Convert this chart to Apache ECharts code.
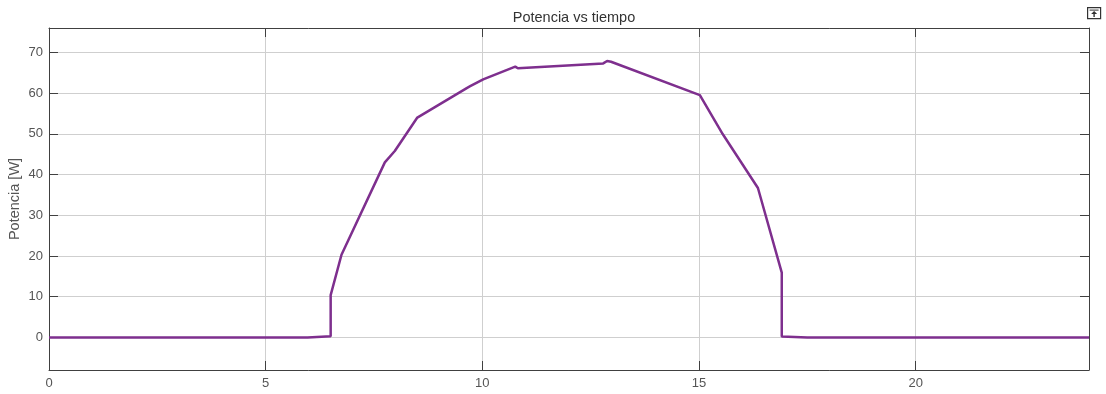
<!DOCTYPE html>
<html>
<head>
<meta charset="utf-8">
<title>Potencia vs tiempo</title>
<script src="https://cdn.jsdelivr.net/npm/echarts@6/dist/echarts.min.js"></script>
<style>
  html, body { margin: 0; padding: 0; background: #ffffff; }
  #chart { width: 1106px; height: 394px; }
</style>
</head>
<body>
<div id="chart"></div>
<script>
// Hour of day and generated power [W]
const tiempo = [0, 5.97, 6.5, 6.5, 6.75, 7.75, 7.98, 8.5, 9.65, 9.72, 10.02, 10.76, 10.82, 12.79, 12.88, 12.97, 15.02, 15.55, 16.36, 16.91, 16.91, 17.5, 24];
const potencia = [0, 0, 0.3, 10.4, 20.3, 43.0, 45.8, 54.0, 61.3, 61.7, 63.4, 66.5, 66.1, 67.3, 67.9, 67.7, 59.5, 49.9, 36.7, 15.9, 0.2, 0, 0];

const xTicks = [0, 5, 10, 15, 20];
const yTicks = [0, 10, 20, 30, 40, 50, 60, 70];

const xRange = [0, 24];
const yRange = [-8, 76];

const FONT = '"Liberation Sans", Arial, sans-serif';
const frameColor = '#404040';
const gridColor = '#cfcfcf';
const labelColor = '#555555';

const chart = echarts.init(document.getElementById('chart'), null, { renderer: 'canvas' });

function frameAxis(extra) {
  return Object.assign({
    type: 'value',
    axisLine: { show: true, onZero: false, lineStyle: { color: frameColor, width: 1 } },
    axisTick: { show: true, inside: true, length: 9, lineStyle: { color: frameColor } },
    axisLabel: { show: false },
    splitLine: { show: false }
  }, extra);
}

const option = {
  animation: false,
  backgroundColor: '#ffffff',
  title: {
    text: 'Potencia vs tiempo',
    left: 569,
    textAlign: 'center',
    top: 5,
    textStyle: { fontFamily: FONT, fontSize: 14.5, fontWeight: 'normal', color: '#333333' }
  },
  grid: { left: 49, right: 17, top: 28, bottom: 24, containLabel: false, outerBoundsMode: 'none' },
  xAxis: [
    {
      type: 'value',
      position: 'bottom',
      min: xRange[0], max: xRange[1],
      axisLine: { show: true, onZero: false, lineStyle: { color: frameColor, width: 1 } },
      axisTick: { show: true, inside: true, length: 9, customValues: xTicks, lineStyle: { color: frameColor } },
      axisLabel: { show: true, customValues: xTicks, color: labelColor, fontFamily: FONT, fontSize: 13, margin: 7 },
      splitLine: { show: true, lineStyle: { color: gridColor, width: 1 } }
    },
    frameAxis({ position: 'top', min: xRange[0], max: xRange[1],
      axisTick: { show: true, inside: true, length: 9, customValues: xTicks, lineStyle: { color: frameColor } } })
  ],
  yAxis: [
    {
      type: 'value',
      position: 'left',
      min: yRange[0], max: yRange[1],
      name: 'Potencia [W]',
      nameLocation: 'middle',
      nameRotate: 90,
      nameGap: 27,
      nameMoveOverlap: false,
      nameTextStyle: { fontFamily: FONT, fontSize: 14.5, color: labelColor },
      axisLine: { show: true, onZero: false, lineStyle: { color: frameColor, width: 1 } },
      axisTick: { show: true, inside: true, length: 9, customValues: yTicks, lineStyle: { color: frameColor } },
      axisLabel: { show: true, customValues: yTicks, color: labelColor, fontFamily: FONT, fontSize: 13, margin: 6 },
      splitLine: { show: true, lineStyle: { color: gridColor, width: 1 } }
    },
    frameAxis({ position: 'right', min: yRange[0], max: yRange[1],
      axisTick: { show: true, inside: true, length: 9, customValues: yTicks, lineStyle: { color: frameColor } } })
  ],
  series: [
    {
      type: 'line',
      xAxisIndex: 0,
      yAxisIndex: 0,
      data: tiempo.map((t, i) => [t, potencia[i]]),
      showSymbol: false,
      symbol: 'none',
      lineStyle: { color: '#7E2F8E', width: 2.5 },
      itemStyle: { color: '#7E2F8E' },
      z: 5
    }
  ],
  graphic: [
    {
      type: 'group',
      left: 1087,
      top: 7,
      children: [
        { type: 'rect', shape: { x: 0, y: 0, width: 13, height: 11 }, style: { fill: '#ffffff', stroke: '#333333', lineWidth: 1.2 } },
        { type: 'line', shape: { x1: 2, y1: 2.5, x2: 11, y2: 2.5 }, style: { stroke: '#333333', lineWidth: 1 } },
        { type: 'polygon', shape: { points: [[6.5, 3.5], [3.5, 6.5], [9.5, 6.5]] }, style: { fill: '#333333' } },
        { type: 'rect', shape: { x: 5.8, y: 6, width: 1.4, height: 3.5 }, style: { fill: '#333333' } }
      ]
    }
  ]
};

chart.setOption(option);
</script>
</body>
</html>
